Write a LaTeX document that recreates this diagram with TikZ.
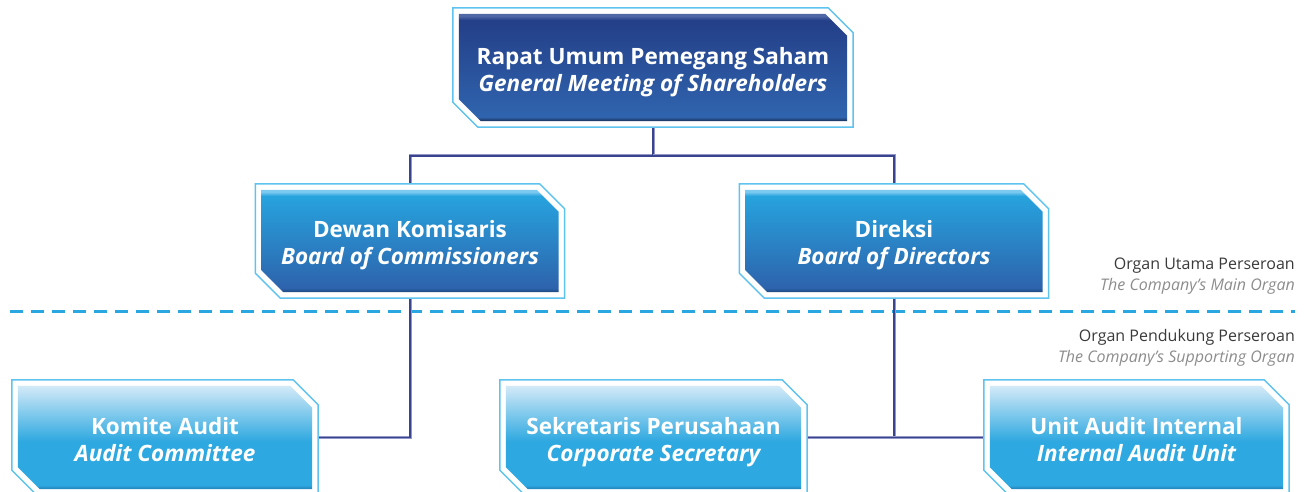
\documentclass[tikz,border=0pt]{standalone}
\usepackage{fontspec}
\setmainfont{Open Sans}
\usetikzlibrary{positioning,backgrounds}

\definecolor{rimline}{HTML}{5EC3EE}
\definecolor{linkin}{HTML}{3A448E}
\definecolor{linkout}{HTML}{9297C8}
\definecolor{sepblue}{HTML}{2AA7E1}
\definecolor{labeldark}{HTML}{3A3A3A}
\definecolor{labelgrey}{HTML}{8C8C8C}
\definecolor{navyglow}{HTML}{5068A6}
\definecolor{navytop}{HTML}{233F88}
\definecolor{navybot}{HTML}{3064AE}
\definecolor{navyrim}{HTML}{172E58}
\definecolor{cyanglow}{HTML}{7CCAF0}
\definecolor{cyantop}{HTML}{27A3DE}
\definecolor{cyanbot}{HTML}{2D63AC}
\definecolor{cyanrim}{HTML}{1B477D}
\definecolor{skytop}{HTML}{D3EAF8}
\definecolor{skybot}{HTML}{2DA8E0}
\definecolor{skyrim}{HTML}{2680B8}

\pgfdeclareverticalshading{navyshade}{100bp}{color(0bp)=(navyrim); color(25bp)=(navyrim); color(27bp)=(navybot); color(72bp)=(navytop); color(74bp)=(navyglow); color(100bp)=(navyglow)}
\pgfdeclareverticalshading{cyanshade}{100bp}{color(0bp)=(cyanrim); color(25bp)=(cyanrim); color(27bp)=(cyanbot); color(72bp)=(cyantop); color(74bp)=(cyanglow); color(100bp)=(cyanglow)}
\pgfdeclareverticalshading{skyshade}{100bp}{color(0bp)=(skyrim); color(25bp)=(skyrim); color(27bp)=(skybot); color(48bp)=(skybot); color(75bp)=(skytop); color(100bp)=(skytop)}

% chamfered outline round a node: node, inset, cut
\newcommand{\boxpath}[3]{%
  ([shift={(#2,-#2)}]#1.north west)
  -- ([shift={({-#2-#3},-#2)}]#1.north east)
  -- ([shift={(-#2,{-#2-#3})}]#1.north east)
  -- ([shift={(-#2,#2)}]#1.south east)
  -- ([shift={({#2+#3},#2)}]#1.south west)
  -- ([shift={(#2,{#2+#3})}]#1.south west)
  -- cycle}
% two-line box text, set a little low as in the chart
\newcommand{\orgtext}[2]{\rule{0pt}{29pt}#1\\\itshape #2\strut}

\tikzset{
  orgbox/.style={inner sep=0pt, text=white, align=center,
    font=\fontsize{22.5}{27}\selectfont\bfseries},
  link/.style={draw=linkin, line width=1.5pt,
    preaction={draw=linkout, line width=3pt}},
  sidelabel/.style={anchor=base east, inner sep=0pt,
    font=\fontsize{16}{19}\selectfont}
}

\begin{document}
\begin{tikzpicture}[x=1pt, y=-1pt]
	\useasboundingbox (0,0) rectangle (1309,492);

	\node[orgbox, minimum width=400pt, minimum height=119pt] (rups) at (653,67.5) {\orgtext{Rapat Umum Pemegang Saham}{General Meeting of Shareholders}};
	\node[orgbox, minimum width=309pt, minimum height=114pt] (dk) at (410,241) {\orgtext{Dewan Komisaris}{Board of Commissioners}};
	\node[orgbox, minimum width=309pt, minimum height=114pt] (dir) at (894,241) {\orgtext{Direksi}{Board of Directors}};
	\node[orgbox, minimum width=306pt, minimum height=115pt] (ka) at (165,437.5) {\orgtext{Komite Audit}{Audit Committee}};
	\node[orgbox, minimum width=307pt, minimum height=115pt] (sp) at (653.5,437.5) {\orgtext{Sekretaris Perusahaan}{Corporate Secretary}};
	\node[orgbox, minimum width=305pt, minimum height=115pt] (uai) at (1136.5,437.5) {\orgtext{Unit Audit Internal}{Internal Audit Unit}};

	\node[sidelabel, text=labeldark] (mainid) at (1295,269) {Organ Utama Perseroan};
	\node[sidelabel, text=labelgrey] (mainen) at (1295,290) {\itshape The Company’s Main Organ};
	\node[sidelabel, text=labeldark] (suppid) at (1295,341) {Organ Pendukung Perseroan};
	\node[sidelabel, text=labelgrey] (suppen) at (1295,362) {\itshape The Company’s Supporting Organ};

	\coordinate (sepL) at (10,311);
	\coordinate (sepR) at (1295,311);
	\coordinate (split) at (653,156);

	\begin{pgfonlayer}{background}
		\clip (0,0) rectangle (1309,492);
		\draw[sepblue, line width=3pt, dash pattern=on 13pt off 8pt] (sepL) -- (sepR);

		\draw[link] (rups.south) -- (split) -| (dk.north);
		\draw[link] (split) -| (dir.north);
		\draw[link] (dk.south) |- (ka.east);
		\draw[link] (dir.south) -- (dir.south |- uai.west);
		\draw[link] (sp.east) -- (uai.west);

		\foreach \n/\s in {rups/navyshade, dk/cyanshade, dir/cyanshade, ka/skyshade, sp/skyshade, uai/skyshade}{
			\filldraw[draw=rimline, fill=white, line width=1.5pt] \boxpath{\n}{0pt}{25pt};
			\shade[shading=\s] \boxpath{\n}{6pt}{22pt};
		}
	\end{pgfonlayer}
\end{tikzpicture}
\end{document}
